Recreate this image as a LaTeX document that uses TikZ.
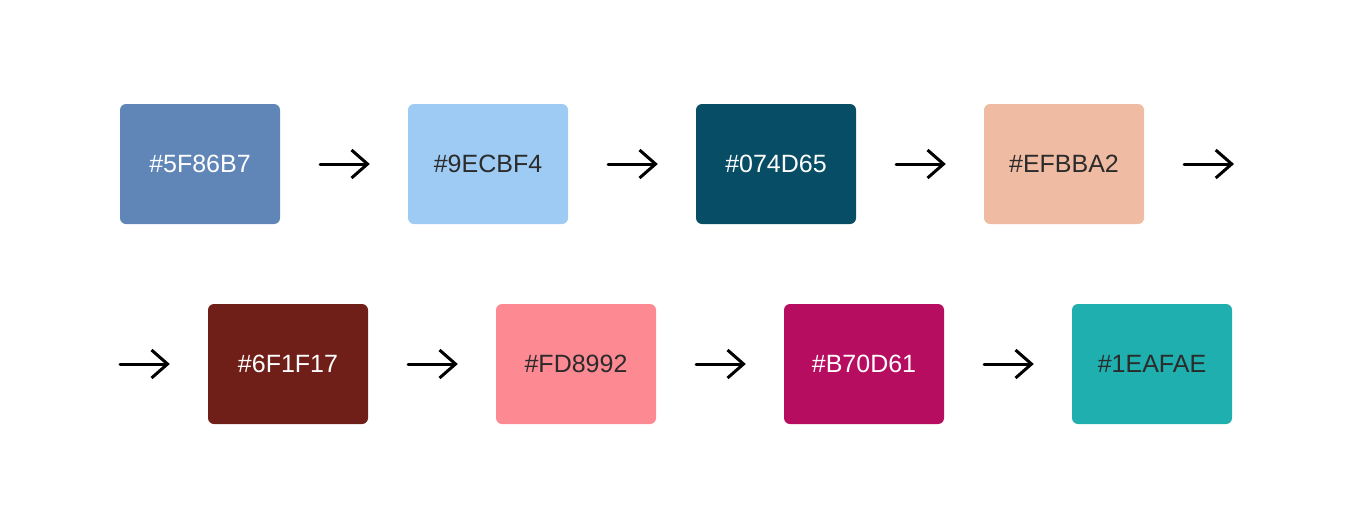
\documentclass[tikz,border=0pt]{standalone}
\usepackage{fontspec}
\setmainfont{Liberation Sans}
\usetikzlibrary{arrows.meta}
\definecolor{cA}{HTML}{5F86B7}
\definecolor{cB}{HTML}{9ECBF4}
\definecolor{cC}{HTML}{074D65}
\definecolor{cD}{HTML}{EFBBA2}
\definecolor{cE}{HTML}{6F1F17}
\definecolor{cF}{HTML}{FD8992}
\definecolor{cG}{HTML}{B70D61}
\definecolor{cH}{HTML}{1EAFAE}
\definecolor{inkgray}{HTML}{2B2B2B}
\tikzset{
	swatchstyle/.style={rectangle,rounded corners=6pt,minimum width=160pt,minimum height=120pt,inner sep=0pt,font=\fontsize{25}{30}\selectfont},
	darkstyle/.style={swatchstyle,fill=#1,text=white},
	lightstyle/.style={swatchstyle,fill=#1,text=inkgray},
	flowstyle/.style={-{Straight Barb[length=16pt,width=28pt]},line width=3pt,line cap=round,line join=round}
}
\begin{document}
\begin{tikzpicture}[x=1pt,y=-1pt]
		\useasboundingbox (0,0) rectangle (1352,528);
		\node[darkstyle=cA] (a) at (200,164) {\#5F86B7};
		\node[lightstyle=cB] (b) at (488,164) {\#9ECBF4};
		\node[darkstyle=cC] (c) at (776,164) {\#074D65};
		\node[lightstyle=cD] (d) at (1064,164) {\#EFBBA2};
		\node[darkstyle=cE] (e) at (288,364) {\#6F1F17};
		\node[lightstyle=cF] (f) at (576,364) {\#FD8992};
		\node[darkstyle=cG] (g) at (864,364) {\#B70D61};
		\node[lightstyle=cH] (h) at (1152,364) {\#1EAFAE};
		\coordinate (rowend) at (1234,164);
		\coordinate (rowstart) at (120,364);
		\draw[flowstyle,shorten <=40pt,shorten >=38pt] (a)--(b);
		\draw[flowstyle,shorten <=40pt,shorten >=38pt] (b)--(c);
		\draw[flowstyle,shorten <=40pt,shorten >=38pt] (c)--(d);
		\draw[flowstyle,shorten <=40pt] (d)--(rowend);
		\draw[flowstyle,shorten >=38pt] (rowstart)--(e);
		\draw[flowstyle,shorten <=40pt,shorten >=38pt] (e)--(f);
		\draw[flowstyle,shorten <=40pt,shorten >=38pt] (f)--(g);
		\draw[flowstyle,shorten <=40pt,shorten >=38pt] (g)--(h);
\end{tikzpicture}
\end{document}
